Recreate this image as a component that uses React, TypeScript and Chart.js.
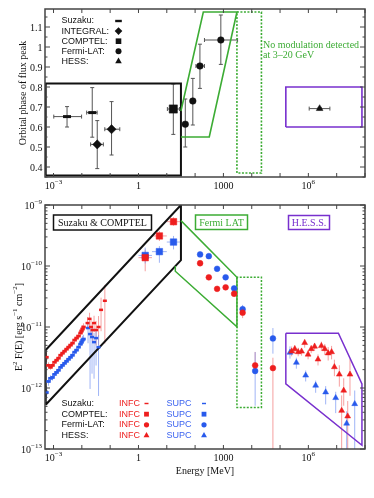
import React, { useEffect, useRef } from 'react';
import { Chart, registerables } from 'chart.js';

Chart.register(...registerables);

const SERIF = '"Liberation Serif", "Times New Roman", Times, serif';
const SANS = '"Liberation Sans", Arial, Helvetica, sans-serif';
const BLACK = '#111111';
const RED = 'rgb(238,30,30)';
const BLUE = 'rgb(40,90,236)';
const RED_ERR = 'rgba(242,120,120,0.7)';
const BLUE_ERR = 'rgba(120,150,242,0.7)';
const GREEN = 'rgb(60,172,52)';
const PURPLE = 'rgb(120,48,206)';
const AXIS = '#444444';

// ---------------- axes ----------------
const energyRange = [5e-4, 1e8];
const phaseRange = [0.35, 1.19];
const fluxRange = [1e-13, 1e-9];
const energyTicks = [1e-3, 1e-2, 1e-1, 1, 10, 100, 1e3, 1e4, 1e5, 1e6, 1e7, 1e8];
const energyTickLabels: [number, string, string][] = [[1e-3, '10', '−3'], [1, '1', ''], [1e3, '1000', ''], [1e6, '10', '6']];
const phaseTicks = [0.4, 0.5, 0.6, 0.7, 0.8, 0.9, 1.0, 1.1];
const phaseTickLabels = ['0.4', '0.5', '0.6', '0.7', '0.8', '0.9', '1', '1.1'];
const phaseMinorTicks = [0.35, 0.45, 0.55, 0.65, 0.75, 0.85, 0.95, 1.05, 1.15];
const fluxTicks = [1e-13, 1e-12, 1e-11, 1e-10, 1e-9];
const fluxTickExps = ['−13', '−12', '−11', '−10', '−9'];

// ---------------- top panel: orbital phase of flux peak ----------------
// [energy MeV, phase, energyLow, energyHigh, phaseLow, phaseHigh]
const suzakuPhase = [
  [0.0030, 0.652, 0.00102, 0.0098, 0.600, 0.702],
  [0.0233, 0.672, 0.0148, 0.0347, 0.549, 0.797],
];
const integralPhase = [
  [0.035, 0.513, 0.0204, 0.0575, 0.392, 0.632],
  [0.112, 0.589, 0.0646, 0.219, 0.46, 0.727],
];
const comptelPhase = [[17, 0.690, 10.5, 28, 0.563, 0.815]];
const fermiPhase = [
  [45, 0.614, 41, 49, 0.500, 0.740],
  [83, 0.730, 74, 93, 0.610, 0.843],
  [148, 0.905, 107, 214, 0.793, 1.014],
  [810, 1.035, 214, 3162, 0.913, 1.160],
];
const hessPhase = [[2.5e6, 0.692, 1.07e6, 5.75e6, 0.686, 0.698]];

const phaseBlackBox = [[5.3e-4, 0.358], [5.3e-4, 0.818], [31.6, 0.818], [31.6, 0.358], [5.3e-4, 0.358]];
const phaseGreenBand = [[31.6, 0.68], [195, 1.175], [3000, 1.175], [316, 0.55], [31.6, 0.55]];
const phaseGreenDotted = [[3000, 0.37], [3000, 1.175], [2.2e4, 1.175], [2.2e4, 0.37], [3000, 0.37]];
const phasePurpleBox = [[1.6e5, 0.6], [1.6e5, 0.8], [7.8e7, 0.8], [7.8e7, 0.6], [1.6e5, 0.6]];

// ---------------- bottom panel: SED ----------------
const xisEnergy = [5.66e-4, 6.65e-4, 7.83e-4, 9.23e-4, 1.08e-3, 1.28e-3, 1.50e-3, 1.77e-3, 2.08e-3, 2.45e-3, 2.88e-3, 3.39e-3, 3.99e-3, 4.69e-3, 5.52e-3, 6.50e-3, 7.64e-3, 9.0e-3, 9.75e-3, 1.06e-2, 1.15e-2];
const xisInfcFlux = [3.19e-12, 2.35e-12, 2.18e-12, 2.35e-12, 2.64e-12, 2.85e-12, 3.08e-12, 3.44e-12, 3.72e-12, 4.01e-12, 4.33e-12, 4.67e-12, 5.04e-12, 5.44e-12, 6.10e-12, 6.58e-12, 7.10e-12, 7.96e-12, 8.59e-12, 9.27e-12, 1.0e-11];
const xisSupcFlux = [8.43e-13, 1.28e-12, 1.44e-12, 1.49e-12, 1.67e-12, 1.80e-12, 1.95e-12, 2.18e-12, 2.35e-12, 2.54e-12, 2.74e-12, 2.96e-12, 3.19e-12, 3.44e-12, 3.86e-12, 4.17e-12, 4.67e-12, 5.24e-12, 5.65e-12, 6.10e-12, 6.34e-12];
const xisInfcErrDex = [0.08, 0.05, 0.04, 0.04, 0.04, 0.04, 0.04, 0.04, 0.04, 0.04, 0.04, 0.04, 0.04, 0.04, 0.04, 0.05, 0.05, 0.05, 0.05, 0.06, 0.06];
const xisSupcErrDex = [0.10, 0.07, 0.05, 0.05, 0.05, 0.05, 0.05, 0.05, 0.05, 0.05, 0.05, 0.05, 0.05, 0.05, 0.05, 0.05, 0.06, 0.06, 0.06, 0.07, 0.07];

// [energy, flux, dexDown, dexUp]
const pinInfc = [
  [0.0159, 1.16e-11, 0.10, 0.10],
  [0.0187, 1.36e-11, 0.12, 0.10],
  [0.0211, 1.0e-11, 0.15, 0.12],
  [0.0239, 8.91e-12, 0.20, 0.13],
  [0.0270, 1.16e-11, 0.15, 0.12],
  [0.0318, 8.91e-12, 0.25, 0.15],
  [0.0389, 1.0e-11, 0.30, 0.18],
  [0.0477, 1.91e-11, 0.35, 0.20],
  [0.0650, 2.69e-11, 0.70, 0.26],
];
const pinSupc = [
  [0.01656, 9.62e-12, 0.25, 0.10],
  [0.0195, 7.66e-12, 0.90, 0.12],
  [0.0229, 6.84e-12, 0.60, 0.15],
  [0.0270, 5.65e-12, 0.60, 0.15],
  [0.0318, 6.58e-12, 0.45, 0.15],
  [0.0389, 4.67e-12, 0.80, 0.20],
];
// [energy, flux, energyLow, energyHigh, fluxLow, fluxHigh]
const comptelInfc = [
  [1.73, 1.37e-10, 1, 3, 8.2e-11, 1.87e-10],
  [5.48, 3.11e-10, 3, 10, 2.57e-10, 3.76e-10],
  [17.3, 5.33e-10, 10, 30, 4.57e-10, 6.3e-10],
];
const comptelSupc = [
  [1.73, 1.49e-10, 1, 3, 1.1e-10, 2.0e-10],
  [5.48, 1.72e-10, 3, 10, 1.13e-10, 2.12e-10],
  [17.3, 2.47e-10, 10, 30, 1.87e-10, 3.11e-10],
];
const fermiInfc = [
  [150, 1.11e-10, 0.03, 0.03],
  [305, 6.53e-11, 0.03, 0.03],
  [598, 4.22e-11, 0.03, 0.03],
  [1197, 4.47e-11, 0.03, 0.03],
  [2388, 3.51e-11, 0.04, 0.04],
  [4764, 1.72e-11, 0.09, 0.07],
  [1.32e4, 2.35e-12, 0.12, 0.22],
  [5.6e4, 2.12e-12, 3.0, 0.17],
];
const fermiSupc = [
  [150, 1.55e-10, 0.03, 0.03],
  [305, 1.45e-10, 0.03, 0.03],
  [598, 9.0e-11, 0.03, 0.03],
  [1197, 6.53e-11, 0.03, 0.03],
  [2388, 4.30e-11, 0.04, 0.04],
  [4764, 1.96e-11, 0.08, 0.07],
  [1.32e4, 1.9e-12, 0.57, 0.31],
  [5.6e4, 6.5e-12, 0.25, 0.17],
];
const hessInfc = [
  [2.57e5, 3.98e-12, 0.08, 0.08],
  [3.31e5, 4.37e-12, 0.08, 0.06],
  [4.37e5, 3.89e-12, 0.07, 0.07],
  [5.75e5, 3.98e-12, 0.07, 0.06],
  [7.41e5, 5.50e-12, 0.08, 0.06],
  [9.77e5, 3.55e-12, 0.08, 0.07],
  [1.26e6, 4.37e-12, 0.07, 0.06],
  [1.66e6, 4.79e-12, 0.07, 0.06],
  [2.19e6, 2.95e-12, 0.10, 0.08],
  [2.88e6, 4.90e-12, 0.08, 0.07],
  [3.80e6, 4.37e-12, 0.10, 0.08],
  [5.01e6, 3.72e-12, 0.12, 0.10],
  [6.61e6, 3.89e-12, 0.12, 0.10],
  [8.3e6, 2.21e-12, 0.15, 0.12],
  [1.24e7, 1.67e-12, 0.20, 0.15],
  [1.50e7, 4.25e-13, 3.0, 0.25],
  [1.77e7, 9.1e-13, 0.25, 0.20],
  [2.45e7, 3.44e-13, 3.0, 0.25],
  [2.95e7, 1.67e-12, 0.35, 0.25],
];
const hessSupc = [
  [2.24e5, 3.82e-12, 0.10, 0.10],
  [3.77e5, 2.61e-12, 0.10, 0.08],
  [8.04e5, 1.61e-12, 0.10, 0.08],
  [1.81e6, 1.10e-12, 0.12, 0.08],
  [4.08e6, 8.53e-13, 0.20, 0.10],
  [9.23e6, 6.89e-13, 0.25, 0.10],
  [2.25e7, 2.62e-13, 3.0, 0.20],
  [4.33e7, 5.48e-13, 3.0, 0.22],
];

const sedBlackBand = [[5.3e-4, 5.3e-13], [5.3e-4, 4.2e-12], [31.6, 1e-9], [31.6, 1.25e-10], [5.3e-4, 5.3e-13]];
const sedGreenBand = [[31.6, 5.55e-10], [3000, 6.53e-11], [3000, 1.01e-11], [20, 8.2e-11], [20, 1.0e-10]];
const sedGreenDotted = [[3000, 6.53e-11], [3000, 4.8e-13], [2.2e4, 4.8e-13], [2.2e4, 6.53e-11], [3000, 6.53e-11]];
const sedPurpleBand = [[1.6e5, 7.9e-12], [1.15e7, 7.9e-12], [7.8e7, 1.17e-12], [7.8e7, 1.15e-13], [1.6e5, 1.17e-12], [1.6e5, 7.9e-12]];

const phaseLegend = [['Suzaku:', 'line'], ['INTEGRAL:', 'diamond'], ['COMPTEL:', 'square'], ['Fermi-LAT:', 'circle'], ['HESS:', 'triangle']];
const sedLegend = [['Suzaku:', 'line'], ['COMPTEL:', 'square'], ['Fermi-LAT:', 'circle'], ['HESS:', 'triangle']];

// ---------------- helpers ----------------
const toPts = (rows: number[][]) => rows.map(([x, y, xMin, xMax, yMin, yMax]) => ({ x, y, xMin, xMax, yMin, yMax }));
const toDexPts = (rows: number[][]) => rows.map(([x, y, dn, up]) => ({ x, y, yMin: y / Math.pow(10, dn), yMax: y * Math.pow(10, up) }));
const toXY = (rows: number[][]) => rows.map(([x, y]) => ({ x, y }));

function shape(data: number[][], color: string, width: number, dash: number[] = []) {
  return { type: 'line', data: toXY(data), borderColor: color, borderWidth: width, borderDash: dash, pointRadius: 0, fill: false, tension: 0, order: 5 };
}
function marks(data: any[], style: string, radius: number, color: string, errColor: string | null, cap = 0, bw = 0.5) {
  return {
    type: 'scatter', data, pointStyle: style, pointRadius: radius, pointHoverRadius: radius,
    pointBackgroundColor: color, pointBorderColor: color, pointBorderWidth: bw,
    errorColor: errColor, capSize: cap, order: 1,
  };
}

function drawRich(ctx: CanvasRenderingContext2D, parts: [string, boolean][], x: number, y: number, size: number, align: string) {
  let w = 0;
  for (const [t, sup] of parts) { ctx.font = `${sup ? size * 0.7 : size}px ${SERIF}`; w += ctx.measureText(t).width; }
  let cx = align === 'center' ? x - w / 2 : align === 'right' ? x - w : x;
  ctx.textAlign = 'left';
  ctx.textBaseline = 'alphabetic';
  for (const [t, sup] of parts) {
    ctx.font = `${sup ? size * 0.7 : size}px ${SERIF}`;
    ctx.fillText(t, cx, sup ? y - size * 0.42 : y);
    cx += ctx.measureText(t).width;
  }
}

function marker(ctx: CanvasRenderingContext2D, kind: string, x: number, y: number, s: number, color: string) {
  ctx.fillStyle = color;
  if (kind === 'line') { ctx.fillRect(x - s, y - s * 0.36, 2 * s, s * 0.72); return; }
  ctx.beginPath();
  if (kind === 'diamond') { ctx.moveTo(x, y - s); ctx.lineTo(x + s, y); ctx.lineTo(x, y + s); ctx.lineTo(x - s, y); }
  if (kind === 'square') ctx.rect(x - s * 0.8, y - s * 0.8, s * 1.6, s * 1.6);
  if (kind === 'circle') ctx.arc(x, y, s, 0, Math.PI * 2);
  if (kind === 'triangle') { ctx.moveTo(x, y - s); ctx.lineTo(x + s * 0.87, y + s * 0.5); ctx.lineTo(x - s * 0.87, y + s * 0.5); }
  ctx.closePath();
  ctx.fill();
}

const errorBarPlugin = {
  id: 'errorBars',
  beforeDatasetsDraw(chart: any) {
    const { ctx, chartArea: a } = chart;
    const xs = chart.scales.x, ys = chart.scales.y;
    ctx.save();
    ctx.beginPath();
    ctx.rect(a.left, a.top, a.right - a.left, a.bottom - a.top);
    ctx.clip();
    chart.data.datasets.forEach((ds: any) => {
      if (!ds.errorColor) return;
      ctx.strokeStyle = ds.errorColor;
      ctx.lineWidth = ds.errorWidth ?? 1;
      const cap = ds.capSize ?? 0;
      ds.data.forEach((p: any) => {
        const px = xs.getPixelForValue(p.x), py = ys.getPixelForValue(p.y);
        ctx.beginPath();
        if (p.yMin != null && p.yMax != null) {
          const y1 = ys.getPixelForValue(p.yMin), y2 = ys.getPixelForValue(p.yMax);
          ctx.moveTo(px, y1); ctx.lineTo(px, y2);
          if (cap) { ctx.moveTo(px - cap, y1); ctx.lineTo(px + cap, y1); ctx.moveTo(px - cap, y2); ctx.lineTo(px + cap, y2); }
        }
        if (p.xMin != null && p.xMax != null) {
          const x1 = xs.getPixelForValue(p.xMin), x2 = xs.getPixelForValue(p.xMax);
          ctx.moveTo(x1, py); ctx.lineTo(x2, py);
          if (cap) { ctx.moveTo(x1, py - cap); ctx.lineTo(x1, py + cap); ctx.moveTo(x2, py - cap); ctx.lineTo(x2, py + cap); }
        }
        ctx.stroke();
      });
    });
    ctx.restore();
  },
};

function drawFrame(chart: any, yMajor: number[], yMinor: number[]) {
  const { ctx, chartArea: a } = chart;
  const xs = chart.scales.x, ys = chart.scales.y;
  ctx.save();
  ctx.strokeStyle = AXIS;
  ctx.lineWidth = 1;
  ctx.beginPath();
  energyTicks.forEach((v) => {
    const px = xs.getPixelForValue(v);
    ctx.moveTo(px, a.bottom); ctx.lineTo(px, a.bottom - 4);
    ctx.moveTo(px, a.top); ctx.lineTo(px, a.top + 4);
  });
  yMajor.forEach((v) => {
    const py = ys.getPixelForValue(v);
    ctx.moveTo(a.left, py); ctx.lineTo(a.left + 5, py);
    ctx.moveTo(a.right, py); ctx.lineTo(a.right - 5, py);
  });
  yMinor.forEach((v) => {
    const py = ys.getPixelForValue(v);
    ctx.moveTo(a.left, py); ctx.lineTo(a.left + 2.5, py);
    ctx.moveTo(a.right, py); ctx.lineTo(a.right - 2.5, py);
  });
  ctx.stroke();
  ctx.lineWidth = 1.5;
  ctx.strokeRect(a.left, a.top, a.right - a.left, a.bottom - a.top);
  ctx.restore();
}

function drawEnergyLabels(chart: any) {
  const { ctx, chartArea: a } = chart;
  const xs = chart.scales.x;
  ctx.fillStyle = BLACK;
  energyTickLabels.forEach(([v, base, exp]) => {
    const parts: [string, boolean][] = exp ? [[base, false], [exp, true]] : [[base, false]];
    drawRich(ctx, parts, xs.getPixelForValue(v), a.bottom + 11.5, 10, 'center');
  });
}

const topPlugin = {
  id: 'topAxes',
  afterDatasetsDraw(chart: any) { drawFrame(chart, phaseTicks, phaseMinorTicks); },
  afterDraw(chart: any) {
    const { ctx, chartArea: a } = chart;
    const ys = chart.scales.y;
    ctx.save();
    drawEnergyLabels(chart);
    ctx.fillStyle = BLACK;
    ctx.font = `10px ${SERIF}`;
    ctx.textAlign = 'right';
    ctx.textBaseline = 'alphabetic';
    phaseTicks.forEach((v, i) => ctx.fillText(phaseTickLabels[i], a.left - 2.5, ys.getPixelForValue(v) + 3.5));
    // y title
    ctx.save();
    ctx.translate(26, (a.top + a.bottom) / 2);
    ctx.rotate(-Math.PI / 2);
    ctx.textAlign = 'center';
    ctx.font = `10px ${SERIF}`;
    ctx.fillText('Orbital phase of flux peak', 0, 0);
    ctx.restore();
    // legend
    phaseLegend.forEach(([label, kind], i) => {
      const y = 21 + i * 10.1;
      ctx.fillStyle = BLACK;
      ctx.font = `9px ${SANS}`;
      ctx.textAlign = 'left';
      ctx.textBaseline = 'middle';
      ctx.fillText(label, 61.5, y);
      const s = kind === 'line' ? 3.3 : kind === 'diamond' ? 3.8 : kind === 'square' ? 3.5 : kind === 'circle' ? 3 : 3.8;
      marker(ctx, kind, 118.5, y, s, BLACK);
    });
    // annotation
    ctx.fillStyle = GREEN;
    ctx.font = `10px ${SERIF}`;
    ctx.textAlign = 'left';
    ctx.textBaseline = 'alphabetic';
    ctx.fillText('No modulation detected', 263, 47.5);
    ctx.fillText('at 3–20 GeV', 263, 57.5);
    ctx.restore();
  },
};

function labelBox(ctx: CanvasRenderingContext2D, text: string, x1: number, y1: number, x2: number, y2: number, color: string) {
  ctx.fillStyle = '#ffffff';
  ctx.fillRect(x1, y1, x2 - x1, y2 - y1);
  ctx.strokeStyle = color;
  ctx.lineWidth = 1.5;
  ctx.strokeRect(x1, y1, x2 - x1, y2 - y1);
  ctx.fillStyle = color;
  ctx.font = `10px ${SERIF}`;
  ctx.textAlign = 'center';
  ctx.textBaseline = 'alphabetic';
  ctx.fillText(text, (x1 + x2) / 2, (y1 + y2) / 2 + 3.5);
}

const fluxMinor: number[] = [];
for (let d = -13; d < -9; d++) for (let m = 2; m <= 9; m++) fluxMinor.push(m * Math.pow(10, d));

const bottomPlugin = {
  id: 'bottomAxes',
  afterDatasetsDraw(chart: any) { drawFrame(chart, fluxTicks, fluxMinor); },
  afterDraw(chart: any) {
    const { ctx, chartArea: a } = chart;
    const ys = chart.scales.y;
    ctx.save();
    drawEnergyLabels(chart);
    ctx.fillStyle = BLACK;
    fluxTicks.forEach((v, i) => drawRich(ctx, [['10', false], [fluxTickExps[i], true]], a.left - 3, ys.getPixelForValue(v) + 3.5, 10, 'right'));
    // x title
    ctx.font = `10px ${SERIF}`;
    ctx.textAlign = 'center';
    ctx.fillText('Energy [MeV]', (a.left + a.right) / 2, a.bottom + 24.5);
    // y title
    ctx.save();
    ctx.translate(21.5, (a.top + a.bottom) / 2);
    ctx.rotate(-Math.PI / 2);
    drawRich(ctx, [['E', false], ['2', true], [' F(E) [erg s', false], ['−1', true], [' cm', false], ['−2', true], [']', false]], 0, 0, 10, 'center');
    ctx.restore();
    // label boxes
    labelBox(ctx, 'Suzaku & COMPTEL', 53.5, a.top + 10, 151.5, a.top + 25, BLACK);
    labelBox(ctx, 'Fermi LAT', 195.5, a.top + 10, 247.5, a.top + 24.5, GREEN);
    labelBox(ctx, 'H.E.S.S.', 288.5, a.top + 10.5, 329.5, a.top + 24.5, PURPLE);
    // legend
    sedLegend.forEach(([label, kind], i) => {
      const y = a.top + 198.5 + i * 10.67;
      ctx.font = `9px ${SANS}`;
      ctx.textAlign = 'left';
      ctx.textBaseline = 'middle';
      ctx.fillStyle = BLACK;
      ctx.fillText(label, 61.5, y);
      ctx.fillStyle = RED;
      ctx.fillText('INFC', 119, y);
      ctx.fillStyle = 'rgb(60,100,240)';
      ctx.fillText('SUPC', 166.5, y);
      const s = kind === 'line' ? 2 : kind === 'square' ? 3 : kind === 'circle' ? 2.6 : 3.4;
      marker(ctx, kind, 146.5, y, s, RED);
      marker(ctx, kind, 204, y, s, BLUE);
    });
    ctx.restore();
  },
};

function baseOptions(yType: string, yRange: number[], padding: any) {
  return {
    responsive: false,
    animation: false,
    devicePixelRatio: 1,
    layout: { padding },
    plugins: { legend: { display: false }, tooltip: { enabled: false } },
    scales: {
      x: { type: 'logarithmic', min: energyRange[0], max: energyRange[1], display: false },
      y: { type: yType, min: yRange[0], max: yRange[1], display: false },
    },
  };
}

function topConfig(): any {
  return {
    type: 'scatter',
    data: {
      datasets: [
        marks(toPts(suzakuPhase), 'line', 4, BLACK, '#555555', 2, 3),
        marks(toPts(integralPhase), 'rectRot', 4.6, BLACK, '#555555', 2),
        marks(toPts(comptelPhase), 'rect', 5.8, BLACK, '#555555', 2),
        marks(toPts(fermiPhase), 'circle', 3.3, BLACK, '#555555', 2),
        marks(toPts(hessPhase), 'triangle', 3.9, BLACK, '#555555', 2),
        shape(phaseGreenBand, GREEN, 1.6),
        shape(phaseGreenDotted, GREEN, 1.6, [2, 1.5]),
        shape(phasePurpleBox, PURPLE, 1.6),
        shape(phaseBlackBox, BLACK, 2),
      ],
    },
    options: baseOptions('linear', phaseRange, { left: 45, right: 9, top: 9, bottom: 18 }),
    plugins: [errorBarPlugin, topPlugin],
  };
}

function bottomConfig(): any {
  const xisInfc = xisEnergy.map((x, i) => ({ x, y: xisInfcFlux[i], yMin: xisInfcFlux[i] / Math.pow(10, xisInfcErrDex[i]), yMax: xisInfcFlux[i] * Math.pow(10, xisInfcErrDex[i]) }));
  const xisSupc = xisEnergy.map((x, i) => ({ x, y: xisSupcFlux[i], yMin: xisSupcFlux[i] / Math.pow(10, xisSupcErrDex[i]), yMax: xisSupcFlux[i] * Math.pow(10, xisSupcErrDex[i]) }));
  return {
    type: 'scatter',
    data: {
      datasets: [
        marks(xisInfc, 'line', 2.2, RED, RED_ERR, 0, 2.8),
        marks(xisSupc, 'line', 2.2, BLUE, BLUE_ERR, 0, 2.8),
        marks(toDexPts(pinInfc), 'line', 2, RED, RED_ERR, 0, 2.5),
        marks(toDexPts(pinSupc), 'line', 2, BLUE, BLUE_ERR, 0, 2.5),
        marks(toPts(comptelInfc), 'rect', 4.6, RED, RED_ERR),
        marks(toPts(comptelSupc), 'rect', 4.6, BLUE, BLUE_ERR),
        marks(toDexPts(fermiInfc), 'circle', 2.9, RED, RED_ERR),
        marks(toDexPts(fermiSupc), 'circle', 2.9, BLUE, BLUE_ERR),
        marks(toDexPts(hessInfc), 'triangle', 3.4, RED, RED_ERR),
        marks(toDexPts(hessSupc), 'triangle', 3.4, BLUE, BLUE_ERR),
        shape(sedGreenBand, GREEN, 1.5),
        shape(sedGreenDotted, GREEN, 1.5, [2, 1.5]),
        shape(sedPurpleBand, PURPLE, 1.5),
        shape(sedBlackBand, BLACK, 2),
      ],
    },
    options: baseOptions('logarithmic', fluxRange, { left: 45, right: 9, top: 10, bottom: 49 }),
    plugins: [errorBarPlugin, bottomPlugin],
  };
}

export default function App() {
  const topRef = useRef<HTMLCanvasElement>(null);
  const botRef = useRef<HTMLCanvasElement>(null);
  useEffect(() => {
    const c1 = new Chart(topRef.current as HTMLCanvasElement, topConfig());
    const c2 = new Chart(botRef.current as HTMLCanvasElement, bottomConfig());
    return () => { c1.destroy(); c2.destroy(); };
  }, []);
  return (
    <div style={{ position: 'absolute', left: 0, top: 0, width: 374, height: 498, background: '#ffffff' }}>
      <canvas ref={topRef} width={374} height={195} style={{ position: 'absolute', left: 0, top: 0, width: 374, height: 195 }} />
      <canvas ref={botRef} width={374} height={303} style={{ position: 'absolute', left: 0, top: 195, width: 374, height: 303 }} />
    </div>
  );
}
